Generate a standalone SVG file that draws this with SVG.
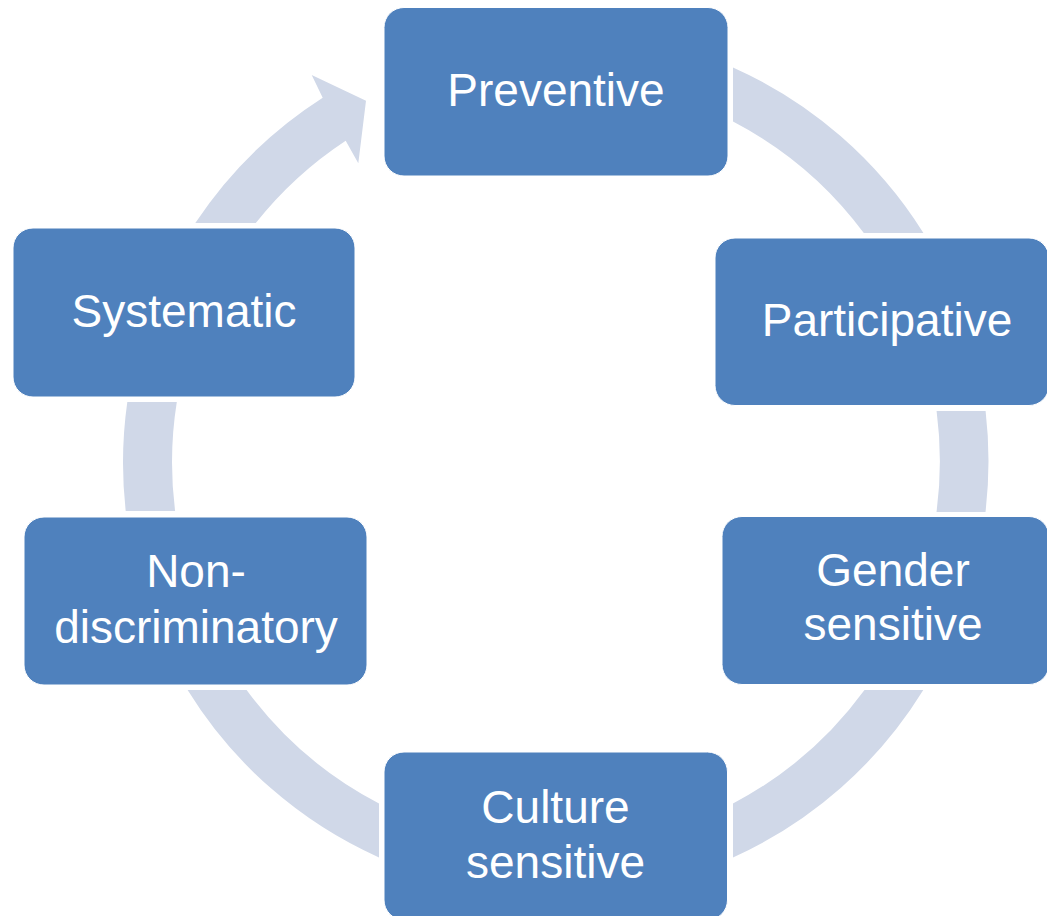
<svg xmlns="http://www.w3.org/2000/svg" width="1047" height="916" viewBox="0 0 1047 916">
  <style>
    .arc { fill: #D0D8E8; stroke: none; }
    .box { fill: #4F81BD; stroke: #FFFFFF; stroke-width: 1; }
    .lbl { fill: #FFFFFF; font-family: "Liberation Sans", Arial, sans-serif; font-size: 46px; text-anchor: middle; }
  </style>
  <rect x="0" y="0" width="1047" height="916" fill="#FFFFFF"/>
  <g id="connectors">
    <path class="arc" d="M 733 67.5 A 433 433 0 0 1 923.4 233 L 863.8 233 A 384 384 0 0 0 733 121.5 Z"/>
    <path class="arc" d="M 985.6 411 A 433 433 0 0 1 985.5 512 L 936.5 512 A 384 384 0 0 0 936.6 411 Z"/>
    <path class="arc" d="M 923.3 690 A 433 433 0 0 1 733 857.5 L 733 803.5 A 384 384 0 0 0 864.5 690 Z"/>
    <path class="arc" d="M 379 857.5 A 433 433 0 0 1 187.6 690 L 246.6 690 A 384 384 0 0 0 379 803.5 Z"/>
    <path class="arc" d="M 125.7 511 A 433 433 0 0 1 127.3 402 L 176.8 402 A 384 384 0 0 0 175.1 511 Z"/>
    <path class="arc" d="M 195.3 223 A 433 433 0 0 1 322.7 97.7 L 311.7 75 L 366 100.7 L 358.3 163.3 L 345.7 140.7 A 384 384 0 0 0 255.8 223 Z"/>
  </g>
  <g id="node-preventive">
    <rect class="box" x="384" y="7.5" width="344" height="168.5" rx="20" ry="20"/>
    <text class="lbl" x="556" y="106">Preventive</text>
  </g>
  <g id="node-participative">
    <rect class="box" x="715" y="238" width="334" height="167.5" rx="20" ry="20"/>
    <text class="lbl" x="887" y="336">Participative</text>
  </g>
  <g id="node-gender-sensitive">
    <rect class="box" x="722" y="516.5" width="327" height="168" rx="20" ry="20"/>
    <text class="lbl" x="893" y="586">Gender</text>
    <text class="lbl" x="893" y="640">sensitive</text>
  </g>
  <g id="node-culture-sensitive">
    <rect class="box" x="384" y="752" width="343.5" height="168" rx="20" ry="20"/>
    <text class="lbl" x="555.5" y="823">Culture</text>
    <text class="lbl" x="555.5" y="878">sensitive</text>
  </g>
  <g id="node-non-discriminatory">
    <rect class="box" x="24" y="517" width="343" height="168" rx="20" ry="20"/>
    <text class="lbl" x="196" y="587">Non-</text>
    <text class="lbl" x="196" y="642.5">discriminatory</text>
  </g>
  <g id="node-systematic">
    <rect class="box" x="13" y="228" width="342" height="169" rx="20" ry="20"/>
    <text class="lbl" x="184" y="327">Systematic</text>
  </g>
</svg>
